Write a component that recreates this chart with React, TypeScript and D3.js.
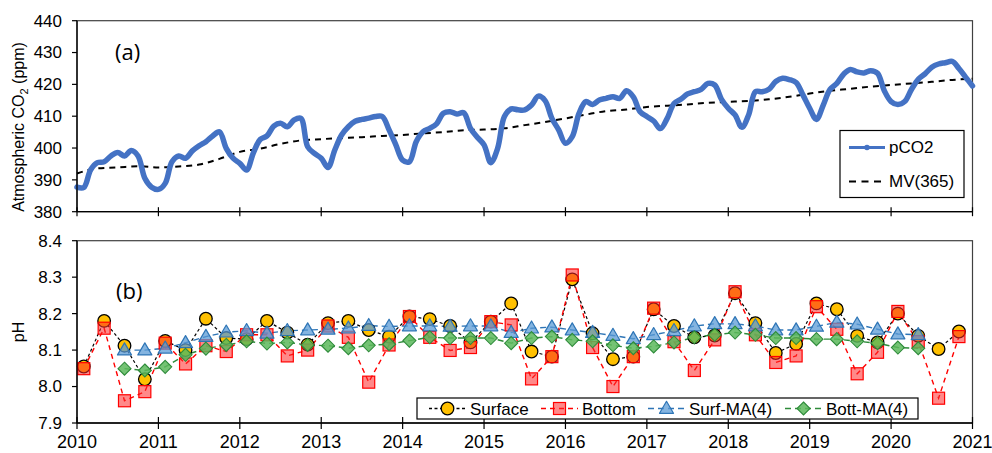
import React from 'react';
import * as d3 from 'd3';

// ---------- DATA ----------
// Monthly atmospheric pCO2 (ppm), starting Jan 2010, through Jan 2021
const pco2StartYear = 2010;
const pco2Monthly = [
  387.7, 387.6, 393.1, 395.4, 395.7, 397.5, 398.6, 397.5, 399.2, 397.5, 390.5, 387.7,
  387.0, 388.9, 395.7, 397.5, 396.8, 399.1, 400.7, 402.0, 403.8, 405.1, 399.9, 396.8,
  395.2, 393.1, 398.5, 402.7, 403.8, 406.9, 407.8, 406.7, 408.8, 409.3, 400.4, 398.3,
  396.8, 393.9, 399.4, 404.1, 406.7, 408.4, 409.0, 409.4, 409.9, 409.9, 405.7, 401.0,
  396.2, 395.7, 402.0, 405.1, 406.2, 407.6, 410.9, 411.4, 410.7, 411.1, 406.2, 403.4,
  401.0, 395.4, 399.9, 409.9, 412.3, 412.0, 412.0, 413.5, 416.3, 414.9, 409.3, 405.7,
  401.5, 403.6, 410.9, 414.6, 413.7, 415.1, 415.6, 416.1, 415.6, 418.0, 416.1, 411.4,
  409.9, 408.5, 406.1, 409.3, 414.0, 415.3, 417.0, 417.7, 418.4, 420.3, 419.8, 415.3,
  412.5, 410.4, 406.5, 410.4, 417.7, 417.7, 418.5, 420.9, 421.9, 421.5, 420.6, 416.7,
  412.5, 409.0, 413.5, 418.4, 420.3, 423.2, 424.7, 423.9, 423.6, 424.3, 423.5, 418.0,
  414.6, 413.7, 414.6, 418.4, 421.6, 423.3, 425.4, 426.4, 426.8, 427.2, 425.0, 422.2,
  419.5,
];

// 365-day moving average (ppm)
const mvDates = [
  2010.0, 2010.25, 2010.5, 2010.75, 2011.0, 2011.25, 2011.5, 2011.75, 2012.0, 2012.25, 2012.5, 2012.75,
  2013.0, 2013.25, 2013.5, 2013.75, 2014.0, 2014.25, 2014.5, 2014.75, 2015.0, 2015.25, 2015.5, 2015.75,
  2016.0, 2016.25, 2016.5, 2016.75, 2017.0, 2017.25, 2017.5, 2017.75, 2018.0, 2018.25, 2018.5, 2018.75,
  2019.0, 2019.25, 2019.5, 2019.75, 2020.0, 2020.25, 2020.5, 2020.75, 2021.0,
];
const mvValues = [
  392.0, 393.6, 393.9, 394.3, 393.9, 394.2, 394.8, 396.6, 398.8, 399.8, 401.3, 402.4,
  402.8, 403.1, 403.4, 403.8, 404.1, 404.6, 405.0, 405.6, 405.8, 406.2, 407.2, 408.2,
  409.3, 410.5, 411.6, 412.1, 412.9, 413.3, 413.7, 414.2, 414.5, 414.8, 415.3, 416.1,
  417.1, 418.0, 418.6, 419.3, 419.8, 420.3, 420.8, 421.4, 421.8,
];

// Quarterly surveys: Feb, May, Aug, Nov of each year
const surveyYears = [2010, 2011, 2012, 2013, 2014, 2015, 2016, 2017, 2018, 2019, 2020];
const surveyMonths = [2, 5, 8, 11];

const surfacePH = [
  8.055, 8.18, 8.112, 8.02,
  8.125, 8.10, 8.186, 8.133,
  8.13, 8.18, 8.148, 8.115,
  8.174, 8.18, 8.155, 8.137,
  8.192, 8.185, 8.166, 8.121,
  8.178, 8.228, 8.096, 8.082,
  8.294, 8.146, 8.075, 8.082,
  8.212, 8.166, 8.135, 8.14,
  8.256, 8.174, 8.092, 8.117,
  8.228, 8.212, 8.139, 8.121,
  8.2, 8.139, 8.103, 8.151,
];
const bottomPH = [
  8.049, 8.16, 7.961, 7.986,
  8.119, 8.062, 8.112, 8.096,
  8.142, 8.142, 8.084, 8.10,
  8.166, 8.135, 8.012, 8.114,
  8.192, 8.135, 8.099, 8.107,
  8.178, 8.169, 8.021, 8.082,
  8.306, 8.107, 8.0, 8.082,
  8.215, 8.123, 8.044, 8.128,
  8.26, 8.142, 8.066, 8.084,
  8.219, 8.157, 8.035, 8.094,
  8.206, 8.123, 7.968, 8.137,
];
// Moving averages (4), Aug 2010 .. May 2020
const surfMA4 = [
  8.10, 8.10,
  8.105, 8.12, 8.137, 8.149,
  8.153, 8.146, 8.153, 8.155,
  8.157, 8.16, 8.167, 8.165,
  8.166, 8.166, 8.165, 8.166,
  8.166, 8.148, 8.16, 8.163,
  8.155, 8.148, 8.14, 8.131,
  8.142, 8.153, 8.166, 8.172,
  8.172, 8.166, 8.155, 8.155,
  8.165, 8.176, 8.171, 8.157,
  8.144, 8.142,
];
const bottMA4 = [
  8.049, 8.044,
  8.054, 8.087, 8.104, 8.114,
  8.124, 8.118, 8.121, 8.114,
  8.112, 8.105, 8.113, 8.116,
  8.126, 8.135, 8.133, 8.133,
  8.133, 8.119, 8.133, 8.137,
  8.128, 8.124, 8.113, 8.105,
  8.11, 8.121, 8.135, 8.142,
  8.148, 8.142, 8.133, 8.133,
  8.13, 8.13, 8.124, 8.119,
  8.107, 8.105,
];

const yearTicks = [2010, 2011, 2012, 2013, 2014, 2015, 2016, 2017, 2018, 2019, 2020, 2021];
const co2Ticks = [380, 390, 400, 410, 420, 430, 440];
const phTicks = [7.9, 8.0, 8.1, 8.2, 8.3, 8.4];

// ---------- CHART ----------
const FONT = "'Liberation Sans', Arial, sans-serif";
const PANEL_FONT = "'Open Sans', 'Noto Sans', sans-serif";

const surveyDates: number[] = [];
surveyYears.forEach((yr) => surveyMonths.forEach((m) => surveyDates.push(yr + (m - 1) / 12)));
const maDates = surveyDates.slice(2, 2 + surfMA4.length);

const C = {
  blue: '#4472C4',
  yellow: '#FFC000',
  red: '#FF0000',
  redFill: 'rgba(255,40,40,0.55)',
  triStroke: '#2E75B6',
  triFill: 'rgba(91,155,213,0.75)',
  diaStroke: '#2E8B3A',
  diaFill: 'rgba(92,184,92,0.85)',
  frame: '#404040',
};

function Circle({ cx, cy }: { cx: number; cy: number }) {
  return <circle cx={cx} cy={cy} r={6.3} fill={C.yellow} stroke="#000" strokeWidth={1.3} />;
}
function Square({ cx, cy }: { cx: number; cy: number }) {
  return <rect x={cx - 6} y={cy - 6} width={12} height={12} fill={C.redFill} stroke={C.red} strokeWidth={1.2} />;
}
function Tri({ cx, cy }: { cx: number; cy: number }) {
  const h = 12, w = 14;
  const d = `M${cx},${cy - h * 0.6}L${cx + w / 2},${cy + h * 0.4}L${cx - w / 2},${cy + h * 0.4}Z`;
  return <path d={d} fill={C.triFill} stroke={C.triStroke} strokeWidth={1.2} strokeLinejoin="round" />;
}
function Dia({ cx, cy }: { cx: number; cy: number }) {
  const r = 6.5;
  const d = `M${cx},${cy - r}L${cx + r},${cy}L${cx},${cy + r}L${cx - r},${cy}Z`;
  return <path d={d} fill={C.diaFill} stroke={C.diaStroke} strokeWidth={1.1} />;
}

export default function App() {
  const W = 992, H = 453;
  const xL = 77, xR = 972.5;
  const x = d3.scaleLinear().domain([2010, 2021]).range([xL, xR]);
  const yA = d3.scaleLinear().domain([380, 440]).range([211.7, 20.7]);
  const yB = d3.scaleLinear().domain([7.9, 8.4]).range([423, 240.7]);

  const pco2Pts: [number, number][] = pco2Monthly.map((v, i) => [pco2StartYear + i / 12, v]);
  const pco2Line = d3.line<[number, number]>()
    .x((d) => x(d[0])).y((d) => yA(d[1]))
    .curve(d3.curveCatmullRom.alpha(0.5));
  const mvLine = d3.line<number>()
    .x((_, i) => x(mvDates[i])).y((d) => yA(d))
    .curve(d3.curveMonotoneX);
  const phLine = (dates: number[]) => d3.line<number>()
    .x((_, i) => x(dates[i])).y((d) => yB(d));

  const topY0 = yA.range()[1], topY1 = yA.range()[0];
  const botY0 = yB.range()[1], botY1 = yB.range()[0];

  const yAxis = (scale: d3.ScaleLinear<number, number>, ticks: number[], fmt: (v: number) => string) => (
    <g>
      <line x1={xL} x2={xL} y1={scale.range()[1]} y2={scale.range()[0]} stroke="#000" strokeWidth={1.3} />
      {ticks.map((t) => (
        <g key={t}>
          <line x1={xL - 5} x2={xL} y1={scale(t)} y2={scale(t)} stroke="#000" strokeWidth={1.2} />
          <text x={62} y={scale(t)} dy="0.35em" textAnchor="end" fontSize={17} fontFamily={FONT} fill="#000">{fmt(t)}</text>
        </g>
      ))}
    </g>
  );
  const xAxis = (y: number, tl: number, labels: boolean) => (
    <g>
      <line x1={xL} x2={xR} y1={y} y2={y} stroke="#000" strokeWidth={1.3} />
      {yearTicks.map((t) => (
        <g key={t}>
          <line x1={x(t)} x2={x(t)} y1={y - tl} y2={y + tl} stroke="#000" strokeWidth={1.2} />
          {labels && (
            <text x={x(t)} y={y + 25} textAnchor="middle" fontSize={18} fontFamily={FONT} fill="#000">{t}</text>
          )}
        </g>
      ))}
    </g>
  );

  const legendB = [
    { key: 'Surface', x0: 429, color: '#000', dash: '3,2.5', M: Circle },
    { key: 'Bottom', x0: 541, color: C.red, dash: '5,4', M: Square },
    { key: 'Surf-MA(4)', x0: 648, color: C.triStroke, dash: '6,4', M: Tri },
    { key: 'Bott-MA(4)', x0: 785, color: C.diaStroke, dash: '6,4', M: Dia },
  ];
  const legY = 408.5;

  return (
    <svg width={W} height={H} style={{ position: 'absolute', left: 0, top: 0, background: '#fff' }}>
      <rect x={0} y={0} width={W} height={H} fill="#fff" />
      {/* ===== Panel (a) ===== */}
      <rect x={xL} y={topY0} width={xR - xL} height={topY1 - topY0} fill="none" stroke={C.frame} strokeWidth={1.2} />
      <path d={mvLine(mvValues) || ''} fill="none" stroke="#000" strokeWidth={2} strokeDasharray="6,5" />
      <path d={pco2Line(pco2Pts) || ''} fill="none" stroke={C.blue} strokeWidth={5.5} strokeLinejoin="round" strokeLinecap="round" />
      {yAxis(yA, co2Ticks, (v) => String(v))}
      {xAxis(topY1, 4.5, false)}
      <text x={115} y={60} fontSize={22} fontFamily={PANEL_FONT} fill="#000">(a)</text>
      <text transform={`translate(24,${127}) rotate(-90)`} textAnchor="middle" fontSize={16} fontFamily={FONT} fill="#000">
        Atmospheric CO<tspan fontSize={11} dy={4}>2</tspan><tspan dy={-4}> (ppm)</tspan>
      </text>
      {/* legend a */}
      <rect x={840} y={130.5} width={124} height={67} fill="#fff" stroke="#000" strokeWidth={1.2} />
      <line x1={849} x2={885} y1={147.5} y2={147.5} stroke={C.blue} strokeWidth={3} />
      <circle cx={867} cy={147.5} r={2.8} fill={C.blue} />
      <text x={889} y={147.5} dy="0.35em" fontSize={17} fontFamily={FONT} fill="#000">pCO2</text>
      <line x1={849} x2={885} y1={181.5} y2={181.5} stroke="#000" strokeWidth={2} strokeDasharray="7,5.5" />
      <text x={889} y={181.5} dy="0.35em" fontSize={17} fontFamily={FONT} fill="#000">MV(365)</text>

      {/* ===== Panel (b) ===== */}
      <rect x={xL} y={botY0} width={xR - xL} height={botY1 - botY0} fill="none" stroke={C.frame} strokeWidth={1.2} />
      <path d={phLine(surveyDates)(surfacePH) || ''} fill="none" stroke="#000" strokeWidth={1.2} strokeDasharray="3,2.5" />
      <path d={phLine(surveyDates)(bottomPH) || ''} fill="none" stroke={C.red} strokeWidth={1.4} strokeDasharray="5,4" />
      <path d={phLine(maDates)(surfMA4) || ''} fill="none" stroke={C.triStroke} strokeWidth={1.4} strokeDasharray="6,4" />
      <path d={phLine(maDates)(bottMA4) || ''} fill="none" stroke={C.diaStroke} strokeWidth={1.4} strokeDasharray="6,4" />
      {surfacePH.map((v, i) => <Circle key={'s' + i} cx={x(surveyDates[i])} cy={yB(v)} />)}
      {bottomPH.map((v, i) => <Square key={'b' + i} cx={x(surveyDates[i])} cy={yB(v)} />)}
      {surfMA4.map((v, i) => <Tri key={'t' + i} cx={x(maDates[i])} cy={yB(v)} />)}
      {bottMA4.map((v, i) => <Dia key={'d' + i} cx={x(maDates[i])} cy={yB(v)} />)}
      {yAxis(yB, phTicks, (v) => v.toFixed(1))}
      {xAxis(botY1, 6, true)}
      <text x={116} y={299} fontSize={22} fontFamily={PANEL_FONT} fill="#000">(b)</text>
      <text transform={`translate(24,${332}) rotate(-90)`} textAnchor="middle" fontSize={16} fontFamily={FONT} fill="#000">pH</text>
      {/* legend b */}
      <rect x={417} y={398} width={501} height={21} fill="#fff" stroke="#000" strokeWidth={1.2} />
      {legendB.map(({ key, x0, color, dash, M }) => (
        <g key={key}>
          <line x1={x0} x2={x0 + 37} y1={legY} y2={legY} stroke={color} strokeWidth={1.3} strokeDasharray={dash} />
          <M cx={x0 + 18.5} cy={legY} />
          <text x={x0 + 41} y={legY} dy="0.36em" fontSize={17} fontFamily={FONT} fill="#000">{key}</text>
        </g>
      ))}
    </svg>
  );
}
